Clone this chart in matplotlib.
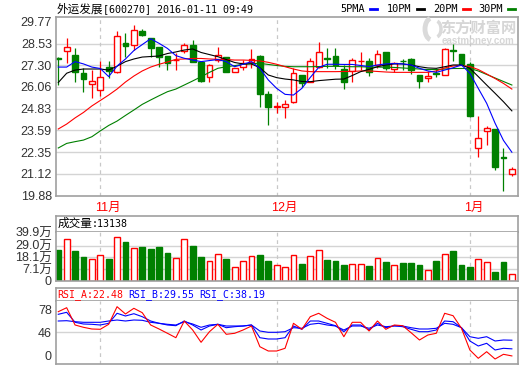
import matplotlib
matplotlib.use('Agg')
import matplotlib.pyplot as plt
from matplotlib.patches import Arc
import numpy as np

plt.rcParams['font.family'] = ['Liberation Sans', 'Noto Sans CJK SC']

# ---- 日K数据 (2015-10-26 ~ 2016-01-11) ----
open_ = [27.70, 28.12, 27.88, 26.84, 26.21, 25.87, 27.21, 26.93, 28.58, 28.45,
         29.26, 28.83, 28.35, 27.82, 27.57, 28.12, 28.45, 27.50, 26.61, 27.59,
         27.78, 26.93, 27.21, 27.46, 27.84, 25.66, 24.92, 24.90, 25.22, 26.74,
         26.36, 27.21, 27.71, 27.82, 27.08, 26.97, 27.53, 27.55, 27.31, 28.03,
         27.10, 27.56, 27.66, 26.74, 26.55, 26.86, 26.76, 28.14, 27.92, 27.35,
         22.57, 23.57, 23.65, 22.06, 21.09]
close_ = [27.66, 28.35, 26.93, 26.51, 26.40, 26.61, 26.98, 28.96, 28.41, 29.30,
          29.01, 28.26, 27.78, 27.40, 27.60, 28.45, 27.50, 26.42, 27.31, 27.88,
          26.93, 27.12, 27.40, 27.65, 25.66, 24.94, 24.95, 25.09, 26.84, 26.27,
          27.54, 28.03, 27.67, 27.31, 26.36, 27.59, 27.56, 26.93, 27.92, 27.12,
          27.45, 27.52, 27.02, 26.42, 26.68, 26.82, 28.23, 28.10, 27.35, 24.43,
          23.14, 23.71, 21.53, 22.02, 21.42]
high_ = [27.75, 28.86, 28.26, 27.12, 27.02, 27.54, 27.54, 29.24, 29.14, 29.58,
         29.34, 28.86, 28.35, 27.82, 27.97, 28.54, 28.73, 27.50, 27.35, 28.35,
         27.78, 27.12, 27.59, 28.22, 27.88, 25.83, 25.20, 25.32, 27.12, 26.74,
         27.69, 28.60, 28.29, 28.26, 27.31, 27.72, 28.03, 27.72, 28.16, 28.03,
         27.50, 27.63, 27.72, 26.74, 26.97, 27.12, 28.26, 28.49, 27.92, 27.46,
         24.43, 23.84, 23.65, 22.57, 21.53]
low_ = [26.17, 27.40, 26.36, 25.79, 25.45, 25.56, 26.55, 26.87, 27.78, 28.16,
        28.96, 27.75, 27.21, 27.02, 27.02, 27.97, 27.50, 26.35, 26.36, 27.50,
        26.89, 26.89, 27.02, 27.12, 24.94, 23.90, 24.60, 24.28, 25.13, 26.04,
        26.33, 27.15, 27.12, 27.08, 25.94, 26.33, 27.02, 26.70, 27.12, 27.02,
        26.89, 27.02, 26.80, 26.02, 26.36, 26.64, 26.74, 27.52, 27.31, 24.37,
        22.10, 22.75, 21.34, 20.16, 21.02]

# 均线
ma5 = [27.19, 27.19, 27.50, 27.37, 27.19, 27.11, 26.65, 27.25, 27.65, 28.13,
       28.47, 28.80, 28.54, 28.25, 27.84, 27.69, 27.59, 27.50, 27.56, 27.62,
       27.50, 27.21, 27.35, 27.50, 27.12, 26.46, 25.98, 25.64, 25.60, 25.98,
       26.60, 27.17, 27.35, 27.35, 27.34, 27.34, 27.28, 27.22, 27.31, 27.37,
       27.39, 27.37, 27.31, 27.12, 26.97, 26.89, 27.02, 27.15, 27.31, 26.84,
       25.98, 25.13, 24.00, 23.02, 22.35]
ma10 = [26.31, 26.84, 27.02, 27.08, 27.08, 27.08, 27.02, 27.24, 27.50, 27.65,
        27.76, 27.79, 27.82, 27.96, 28.05, 28.16, 28.22, 28.02, 27.90, 27.78,
        27.62, 27.45, 27.37, 27.37, 27.15, 26.74, 26.59, 26.51, 26.46, 26.37,
        26.36, 26.42, 26.46, 26.50, 26.51, 26.71, 26.93, 27.06, 27.21, 27.31,
        27.37, 27.37, 27.31, 27.21, 27.14, 27.12, 27.21, 27.31, 27.31, 27.12,
        26.65, 26.17, 25.70, 25.22, 24.70]
ma20 = [23.67, 23.95, 24.30, 24.61, 24.98, 25.29, 25.60, 25.94, 26.34, 26.68,
        26.97, 27.19, 27.35, 27.48, 27.63, 27.65, 27.68, 27.68, 27.65, 27.63,
        27.62, 27.59, 27.59, 27.57, 27.54, 27.46, 27.35, 27.21, 27.08, 26.97,
        26.93, 26.93, 26.93, 26.93, 26.94, 26.94, 26.97, 26.97, 26.94, 26.91,
        26.89, 26.89, 26.89, 26.89, 26.89, 26.97, 27.14, 27.25, 27.28, 27.22,
        27.05, 26.80, 26.54, 26.26, 25.94]
ma30 = [22.59, 22.85, 22.95, 23.04, 23.23, 23.56, 23.87, 24.12, 24.44, 24.75,
        25.07, 25.32, 25.56, 25.79, 25.94, 26.17, 26.40, 26.64, 26.89, 27.12,
        27.21, 27.27, 27.35, 27.39, 27.40, 27.34, 27.28, 27.23, 27.21, 27.21,
        27.21, 27.22, 27.23, 27.23, 27.22, 27.21, 27.21, 27.19, 27.19, 27.18,
        27.17, 27.14, 27.11, 27.08, 27.05, 27.05, 27.08, 27.11, 27.11, 27.11,
        26.97, 26.77, 26.57, 26.37, 26.17]

# 成交量 (万)
volume = [24.9, 35.3, 24.4, 18.4, 16.6, 20.2, 16.8, 37.2, 32.7, 26.9,
          28.1, 25.9, 28.1, 22.4, 17.5, 35.3, 29.1, 18.4, 14.6, 21.3,
          16.8, 9.0, 14.6, 19.3, 20.6, 15.0, 11.0, 9.0, 20.0, 11.8,
          19.0, 24.7, 15.6, 14.6, 11.0, 11.5, 11.5, 9.7, 17.1, 13.7,
          10.6, 12.8, 12.8, 11.0, 5.9, 14.6, 20.9, 24.0, 11.0, 9.0,
          16.2, 13.3, 4.3, 13.7, 2.1]

# RSI
rsi_a = [66.7, 70.7, 53.4, 51.1, 49.4, 49.1, 54.1, 71.7, 64.4, 70.1,
         65.7, 53.4, 49.4, 45.1, 40.7, 57.4, 48.4, 36.1, 46.7, 54.1,
         44.1, 45.1, 48.4, 52.4, 31.7, 27.4, 27.4, 30.1, 55.1, 49.1,
         61.7, 65.1, 60.1, 56.1, 41.7, 56.1, 56.1, 47.4, 57.4, 49.1,
         53.4, 52.7, 45.7, 38.4, 43.4, 45.1, 65.1, 62.7, 50.1, 28.4,
         20.1, 26.7, 19.4, 24.1, 22.48]
rsi_b = [64.1, 66.1, 56.1, 54.4, 54.1, 53.4, 55.1, 65.1, 62.4, 64.7,
         61.7, 57.4, 55.1, 53.4, 52.7, 57.4, 53.4, 48.4, 52.4, 54.1,
         50.7, 51.7, 52.4, 53.4, 40.7, 39.4, 39.4, 40.7, 52.4, 49.1,
         57.4, 57.4, 55.1, 52.7, 46.7, 53.4, 53.4, 48.4, 55.1, 50.7,
         52.7, 51.7, 49.1, 46.7, 46.7, 48.4, 57.4, 56.7, 50.7, 37.4,
         32.4, 35.1, 28.4, 30.1, 29.55]
rsi_c = [57.4, 57.7, 56.7, 56.1, 56.1, 56.1, 57.4, 58.4, 57.4, 58.4,
         58.1, 56.1, 55.1, 54.1, 53.4, 56.7, 54.4, 51.1, 53.4, 54.1,
         52.4, 52.4, 52.4, 53.4, 47.4, 46.1, 46.1, 46.7, 50.7, 50.1,
         54.1, 55.1, 53.4, 52.4, 48.4, 52.4, 52.4, 50.1, 53.4, 51.7,
         52.4, 52.4, 50.7, 49.4, 49.4, 50.1, 55.1, 54.1, 50.7, 41.7,
         40.1, 41.7, 37.4, 38.4, 38.19]

price_ticks = [29.77, 28.53, 27.30, 26.06, 24.83, 23.59, 22.35, 21.12, 19.88]
vol_grid = [29.0, 18.1, 7.1]
vol_labels = ['39.9万', '29.0万', '18.1万', '7.1万', '0']
rsi_labels = ['78', '46', '0']
month_pos = [5, 26, 49]
month_labels = ['11月', '12月', '1月']

RED = '#ff0000'
GREEN = '#008000'
BLUE = '#0000ff'
FRAME = '#a0a0a0'
GRID = '#d4d4d4'
DASH = '#c8c8c8'
W, H = 520, 365


def rect(l, t, r, b):
    return [l / W, 1 - b / H, (r - l) / W, (b - t) / H]


def style(ax):
    for s in ax.spines.values():
        s.set_color(FRAME)
        s.set_linewidth(1.2)
    ax.tick_params(length=0, labelsize=9, labelcolor='#333333', pad=3)
    ax.set_xticks([])
    ax.set_xlim(-0.27, 54.73)


o = np.array(open_)
c = np.array(close_)
hi = np.array(high_)
lo = np.array(low_)
x = np.arange(len(c))
up = c >= o
col = np.where(up, RED, GREEN)
face = np.where(up, 'white', GREEN)

fig = plt.figure(figsize=(W / 100, H / 100), dpi=100)

# ---- K线 ----
ax = fig.add_axes(rect(56, 17.3, 518, 196))
style(ax)
ax.set_ylim(19.86, 30.02)
ax.set_yticks(price_ticks)
ax.set_yticklabels(['%.2f' % v for v in price_ticks])
for v in price_ticks[1:-1]:
    ax.axhline(v, color=GRID, lw=1, zorder=0)
for p in month_pos:
    ax.axvline(p, color=DASH, lw=0.9, ls=(0, (3, 3)), zorder=0)

blo = np.minimum(o, c)
bhi = np.maximum(o, c)
ax.vlines(x, lo, blo, color=col, lw=0.9, zorder=2)
ax.vlines(x, bhi, hi, color=col, lw=0.9, zorder=2)
ax.bar(x, np.maximum(bhi - blo, 0.02), bottom=blo, width=0.7,
       facecolor=face, edgecolor=col, linewidth=1.0, zorder=2)

ax.plot(x, ma30, color=GREEN, lw=0.8, zorder=3)
ax.plot(x, ma20, color=RED, lw=0.8, zorder=3)
ax.plot(x, ma10, color='black', lw=0.8, zorder=3)
ax.plot(x, ma5, color=BLUE, lw=0.8, zorder=3)

for p, lab in zip(month_pos, month_labels):
    ax.text(p - 0.65, -0.035, lab, transform=ax.get_xaxis_transform(),
            ha='left', va='top', color=RED, fontsize=9)

# 水印 (logo 用两段灰色弧线示意)
fig.add_artist(Arc((432, H - 29), 14, 22, theta1=100, theta2=260,
                   transform=None, color='#dadada', lw=3.5))
fig.add_artist(Arc((436, H - 29), 10, 16, theta1=280, theta2=80,
                   transform=None, color='#dadada', lw=2.5))
fig.text(478 / W, 1 - 28 / H, '东方财富网', color='#d6d6d6', fontsize=11,
         fontweight='bold', ha='center', va='center')
fig.text(478 / W, 1 - 41 / H, 'eastmoney.com', color='#d6d6d6', fontsize=7,
         fontweight='bold', ha='center', va='center')

# 标题和图例
fig.text(57 / W, 1 - 9 / H, '外运发展', fontsize=8.4, family='Noto Sans CJK SC',
         va='center', ha='left')
fig.text(103 / W, 1 - 9 / H, '[600270] 2016-01-11 09:49', fontsize=7.2,
         family='DejaVu Sans Mono', va='center', ha='left')
legend_items = [('5PMA', BLUE, 340), ('10PM', 'black', 387),
                ('20PM', RED, 433), ('30PM', GREEN, 478)]
for lab, lc, lx in legend_items:
    fig.text(lx / W, 1 - 9 / H, lab, fontsize=7.4, family='DejaVu Sans Mono',
             va='center', ha='left')
    fig.add_artist(plt.Line2D([(lx + 30) / W, (lx + 37) / W],
                              [1 - 9 / H, 1 - 9 / H], color=lc, lw=2))

# ---- 成交量 ----
axh = fig.add_axes(rect(56, 215.5, 518, 231.7))
style(axh)
axh.set_yticks([])
axh.text(0.003, 0.5, '成交量', fontsize=8.4, family='Noto Sans CJK SC',
         va='center', ha='left', transform=axh.transAxes)
axh.text(0.077, 0.5, ':13138', fontsize=7.2, family='DejaVu Sans Mono',
         va='center', ha='left', transform=axh.transAxes)

axv = fig.add_axes(rect(56, 231.7, 518, 280.5))
style(axv)
axv.spines['top'].set_visible(False)
vbot, vtop = -3.7, 42.2
axv.set_ylim(vbot, vtop)
axv.set_yticks([vtop - 0.3] + vol_grid + [vbot + 0.3])
axv.set_yticklabels(vol_labels)
for v in vol_grid:
    axv.axhline(v, color=GRID, lw=1, zorder=0)
for p in month_pos:
    axv.axvline(p, color=DASH, lw=0.9, ls=(0, (3, 3)), zorder=0)
vol = np.array(volume)
axv.bar(x, vol - vbot, bottom=vbot, width=0.7, facecolor=face,
        edgecolor=col, linewidth=1.0, zorder=2)

# ---- RSI ----
axr_h = fig.add_axes(rect(56, 287.5, 518, 301))
style(axr_h)
axr_h.set_yticks([])
for lab, lc, tx in [('RSI_A:22.48', RED, 0.002), ('RSI_B:29.55', BLUE, 0.156),
                    ('RSI_C:38.19', BLUE, 0.311)]:
    axr_h.text(tx, 0.5, lab, color=lc, fontsize=7.1, family='DejaVu Sans Mono',
               va='center', ha='left', transform=axr_h.transAxes)

axr = fig.add_axes(rect(56, 301, 518, 364))
style(axr)
axr.spines['top'].set_visible(False)
axr.set_ylim(14.4, 77.4)
axr.set_yticks([69.1, 46, 23.4])
axr.set_yticklabels(rsi_labels)
axr.axhline(46, color=GRID, lw=1, zorder=0)
for p in month_pos:
    axr.axvline(p, color=DASH, lw=0.9, ls=(0, (3, 3)), zorder=0)
axr.plot(x, rsi_c, color=BLUE, lw=0.8)
axr.plot(x, rsi_b, color=BLUE, lw=0.8)
axr.plot(x, rsi_a, color=RED, lw=0.8)

fig.savefig('out.png', dpi=100)
